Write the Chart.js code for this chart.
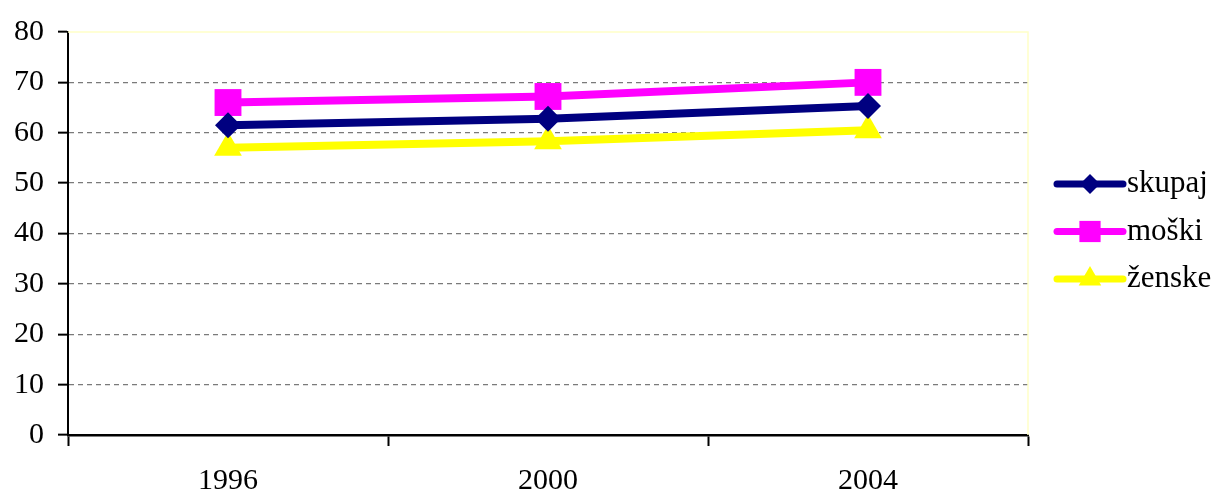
<!DOCTYPE html>
<html>
<head>
<meta charset="utf-8">
<script src="https://cdn.jsdelivr.net/npm/chart.js@4"></script>
<style>
html,body{margin:0;padding:0;background:#fff;}
#wrap{width:1216px;height:495px;position:relative;}
</style>
</head>
<body>
<div id="wrap"><canvas id="c" width="1216" height="495"></canvas></div>
<script>
const categories = ['1996', '2000', '2004'];
const skupaj = [61.5, 62.8, 65.3];
const moski = [66.0, 67.2, 70.0];
const zenske = [57.0, 58.3, 60.5];
const seriesNames = ['skupaj', 'moški', 'ženske'];

Chart.defaults.font.family = "'Liberation Serif', 'Times New Roman', serif";
Chart.defaults.font.size = 30;
Chart.defaults.color = '#000';

const legendRadius = [10, 15, 13];

const legendPlugin = {
  id: 'sideLegend',
  afterDraw(chart) {
    const ctx = chart.ctx;
    const ca = chart.chartArea;
    const mid = (ca.top + ca.bottom) / 2 - 2;
    const x0 = ca.right + 29, x1 = ca.right + 95;
    chart.data.datasets.forEach((ds, i) => {
      const y = mid + (i - 1) * 47.5;
      ctx.save();
      ctx.strokeStyle = ds.borderColor;
      ctx.lineWidth = 7;
      ctx.lineCap = 'round';
      ctx.beginPath();
      ctx.moveTo(x0, y);
      ctx.lineTo(x1, y);
      ctx.stroke();
      ctx.fillStyle = ds.pointBackgroundColor;
      ctx.strokeStyle = ds.pointBackgroundColor;
      Chart.helpers.drawPoint(ctx, {pointStyle: ds.pointStyle, radius: legendRadius[i], borderWidth: 0}, (x0 + x1) / 2, y);
      ctx.fillStyle = '#000';
      ctx.font = "31px 'Liberation Serif', 'Times New Roman', serif";
      ctx.textBaseline = 'middle';
      ctx.textAlign = 'left';
      ctx.fillText(ds.label, x1 + 4, y);
      ctx.restore();
    });
  }
};

const borderPlugin = {
  id: 'plotBorder',
  beforeDatasetsDraw(chart) {
    const ctx = chart.ctx;
    const ca = chart.chartArea;
    ctx.save();
    ctx.strokeStyle = '#ffffc8';
    ctx.lineWidth = 1.5;
    ctx.beginPath();
    ctx.moveTo(ca.left, ca.top);
    ctx.lineTo(ca.right, ca.top);
    ctx.lineTo(ca.right, ca.bottom);
    ctx.stroke();
    ctx.restore();
  }
};

function mkDs(label, data, color, style, radius) {
  return {
    label: label,
    data: data,
    borderColor: color,
    backgroundColor: color,
    pointBackgroundColor: color,
    pointBorderColor: color,
    pointBorderWidth: 0,
    pointStyle: style,
    pointRadius: radius,
    pointHoverRadius: radius,
    borderWidth: 8,
    tension: 0,
    clip: false
  };
}

new Chart(document.getElementById('c'), {
  type: 'line',
  data: {
    labels: categories,
    datasets: [
      mkDs(seriesNames[0], skupaj, '#000080', 'rectRot', 13),
      mkDs(seriesNames[1], moski, '#ff00ff', 'rect', 19),
      mkDs(seriesNames[2], zenske, '#ffff00', 'triangle', 16)
    ]
  },
  options: {
    responsive: false,
    animation: false,
    events: [],
    layout: { padding: { top: 30, right: 188, left: 0, bottom: 0 } },
    plugins: { legend: { display: false }, tooltip: { enabled: false } },
    scales: {
      x: {
        offset: true,
        afterFit(s) { s.height = 60; },
        grid: {
          offset: true,
          drawOnChartArea: false,
          drawTicks: true,
          tickLength: 11,
          tickColor: '#000',
          tickWidth: 2
        },
        border: { display: true, color: '#000', width: 2.5 },
        ticks: { padding: 17, maxRotation: 0, color: '#000' }
      },
      y: {
        min: 0,
        max: 80,
        afterFit(s) { s.width = 68; },
        grid: {
          color(ctx) {
            const v = ctx.tick ? ctx.tick.value : null;
            return (v === 0 || v === 80) ? 'rgba(0,0,0,0)' : '#7a7a7a';
          },
          lineWidth: 1.3,
          tickColor: '#000',
          tickWidth: 2,
          tickLength: 10,
          tickBorderDash: []
        },
        border: { display: true, color: '#000', width: 2, dash: [5, 4] },
        ticks: { stepSize: 10, padding: 14, color: '#000' }
      }
    }
  },
  plugins: [borderPlugin, legendPlugin]
});
</script>
</body>
</html>
